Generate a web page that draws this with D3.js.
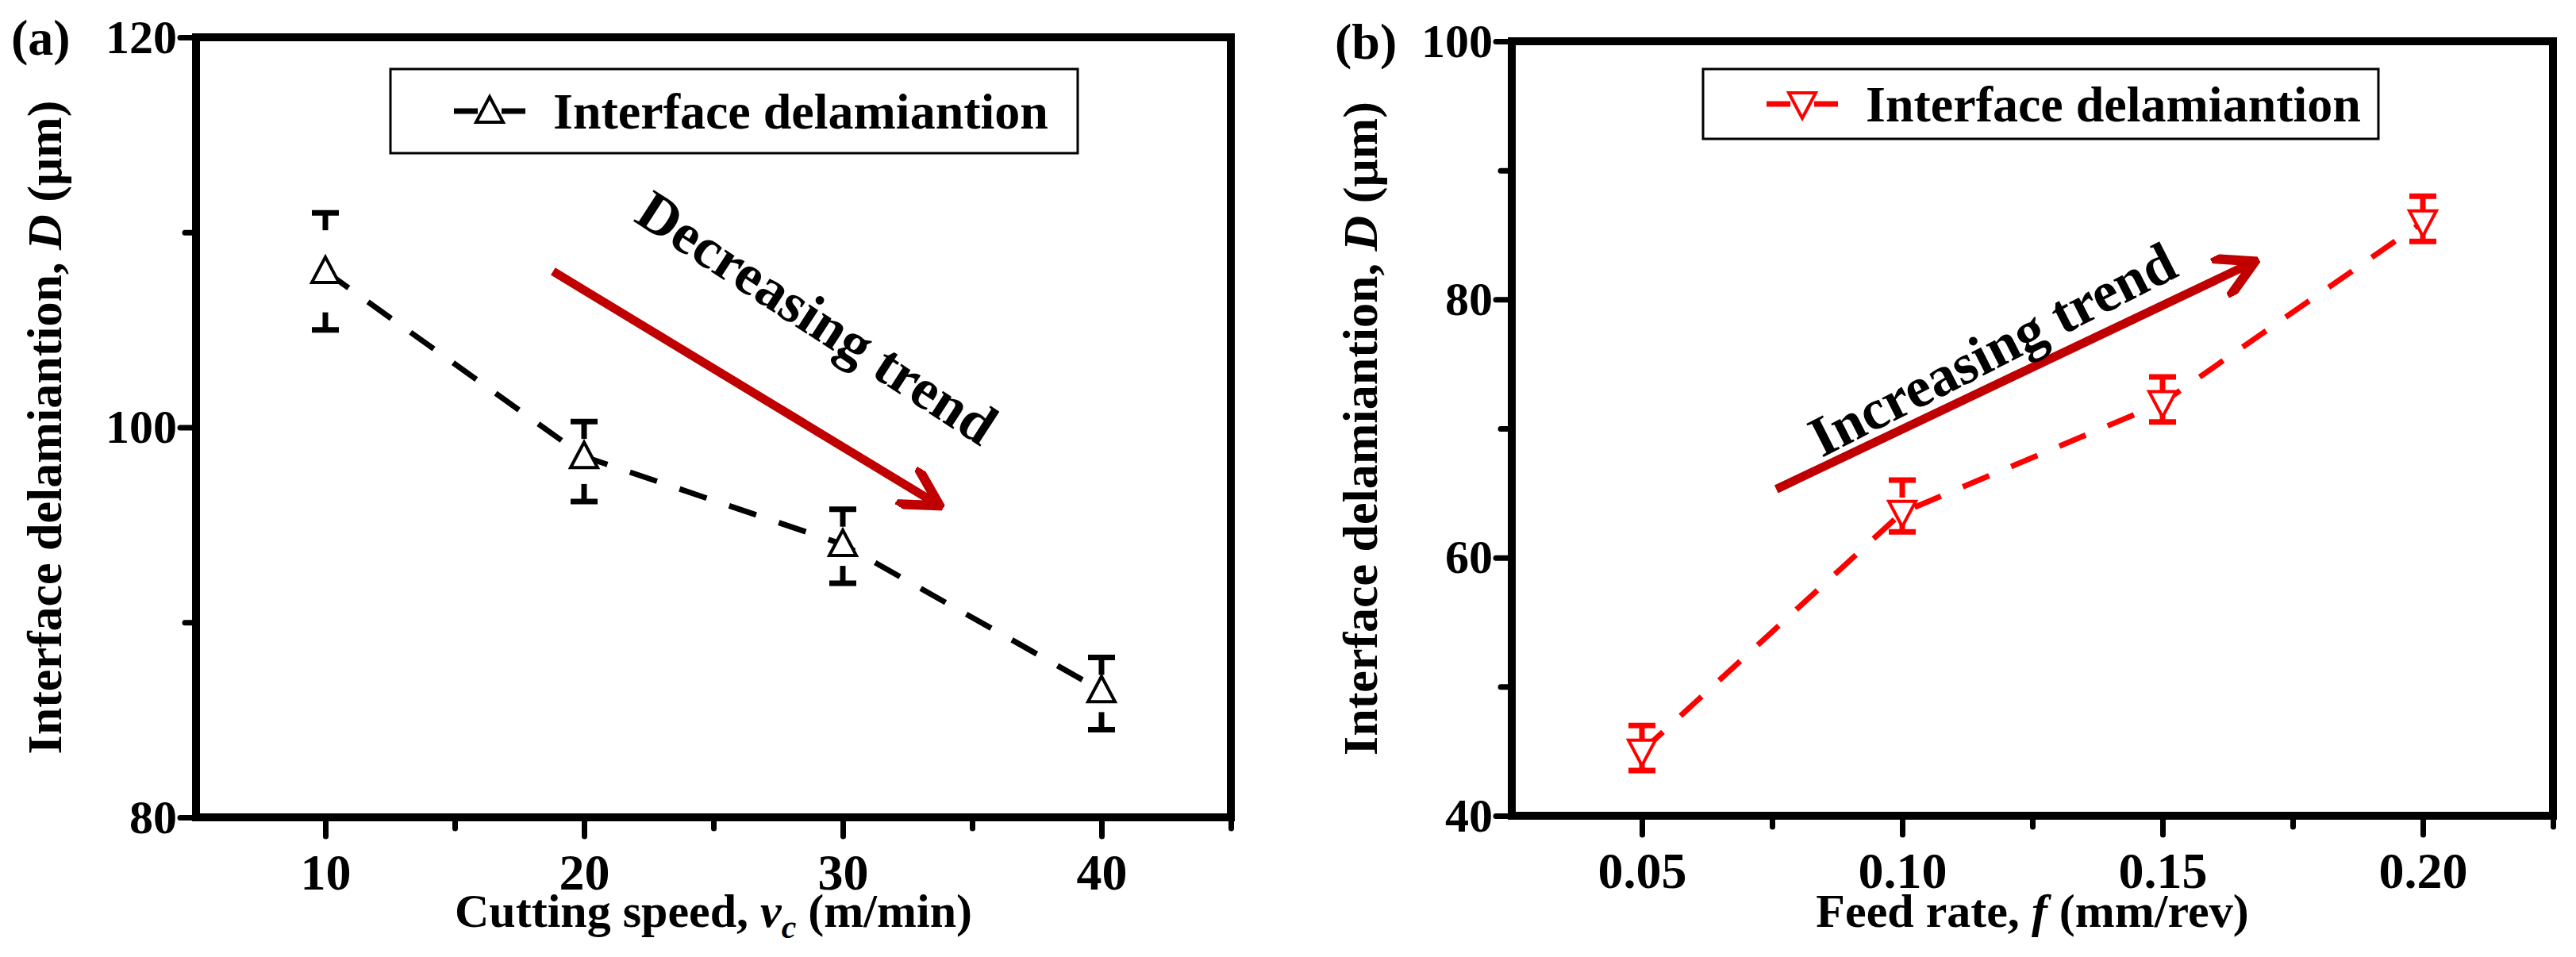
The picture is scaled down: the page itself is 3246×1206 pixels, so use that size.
<!DOCTYPE html>
<html><head><meta charset="utf-8">
<script src="https://cdn.jsdelivr.net/npm/d3@7"></script>
<style>body{margin:0;background:#fff}svg text{font-family:"Liberation Serif","Times New Roman",serif;font-weight:bold}</style>
</head><body>
<svg id="c" width="3246" height="1206"></svg>
<script>
// panel (a): cutting speed
const speeds = [10, 20, 30, 40];
const delamA = [108, 98.5, 94, 86.5];
const errLoA = [105, 96.2, 92, 84.5];
const errHiA = [111, 100.3, 95.8, 88.2];
// panel (b): feed rate
const feeds = [0.05, 0.10, 0.15, 0.20];
const delamB = [45, 63.5, 72, 86];
const errLoB = [43.5, 62, 70.5, 84.5];
const errHiB = [47, 66, 74, 88];
const ticksA = [10, 20, 30, 40], yTicksA = [80, 100, 120];
const ticksB = [0.05, 0.10, 0.15, 0.20], yTicksB = [40, 60, 80, 100];

const svg = d3.select('#c');
const RED = '#c00000';
svg.append('defs').append('marker').attr('id','ah').attr('viewBox','0 0 10 10')
  .attr('refX',8).attr('refY',5).attr('markerWidth',5).attr('markerHeight',5).attr('orient','auto')
  .append('path').attr('d','M0,0 L9,5 L0,10').attr('fill','none').attr('stroke',RED).attr('stroke-width',2.2);

function panel(o) {
  const g = svg.append('g');
  const x = d3.scaleLinear().domain(o.xd).range([o.l, o.r]);
  const y = d3.scaleLinear().domain(o.yd).range([o.b, o.t]);
  const ax = (sel) => sel.selectAll('.domain').remove();
  // minor ticks
  g.append('g').attr('transform',`translate(0,${o.b})`).call(d3.axisBottom(x).tickValues(o.xMinor).tickSize(14).tickFormat('')).call(ax);
  g.append('g').attr('transform',`translate(${o.l},0)`).call(d3.axisLeft(y).tickValues(o.yMinor).tickSize(14).tickFormat('')).call(ax);
  const gx = g.append('g').attr('transform',`translate(0,${o.b})`).call(d3.axisBottom(x).tickValues(o.xt).tickSize(24).tickPadding(22).tickFormat(o.xf)).call(ax);
  const gy = g.append('g').attr('transform',`translate(${o.l},0)`).call(d3.axisLeft(y).tickValues(o.yt).tickSize(20).tickPadding(4)).call(ax);
  g.selectAll('.tick line').attr('stroke','#000').attr('stroke-width',7).attr('stroke-linecap','round');
  gx.selectAll('text').attr('font-size',64).attr('fill','#000');
  gy.selectAll('text').attr('font-size',60).attr('fill','#000');
  g.append('rect').attr('x',o.l).attr('y',o.t).attr('width',o.r-o.l).attr('height',o.b-o.t)
    .attr('fill','none').attr('stroke','#000').attr('stroke-width',10);
  g.append('text').attr('x',o.labX).attr('y',o.t+22).attr('font-size',64).attr('text-anchor','start').text(o.lab);
  // axis titles
  const xt = g.append('text').attr('x',(o.l+o.r)/2).attr('y',1168).attr('font-size',60).attr('text-anchor','middle');
  o.xTitle(xt);
  const yt = g.append('text').attr('transform',`translate(${o.l-170},${(o.t+o.b)/2}) rotate(-90)`).attr('font-size',62).attr('text-anchor','middle');
  yt.append('tspan').text('Interface delamiantion, ');
  yt.append('tspan').attr('font-style','italic').text('D');
  yt.append('tspan').text(' (\u03bcm)');
  // data
  const pts = o.xs.map((v,i)=>({x:v,y:o.ys[i],lo:o.lo[i],hi:o.hi[i]}));
  g.append('path').datum(pts).attr('d',d3.line().x(d=>x(d.x)).y(d=>y(d.y)))
    .attr('fill','none').attr('stroke',o.col).attr('stroke-width',7).attr('stroke-dasharray','36,30');
  const eb = g.selectAll('.eb').data(pts).join('g').attr('stroke',o.col).attr('stroke-width',7);
  eb.append('line').attr('x1',d=>x(d.x)).attr('x2',d=>x(d.x)).attr('y1',d=>y(d.hi)).attr('y2',d=>y(d.hi)+22);
  eb.append('line').attr('x1',d=>x(d.x)).attr('x2',d=>x(d.x)).attr('y1',d=>y(d.lo)).attr('y2',d=>y(d.lo)-22);
  eb.append('line').attr('x1',d=>x(d.x)-17).attr('x2',d=>x(d.x)+17).attr('y1',d=>y(d.hi)).attr('y2',d=>y(d.hi));
  eb.append('line').attr('x1',d=>x(d.x)-17).attr('x2',d=>x(d.x)+17).attr('y1',d=>y(d.lo)).attr('y2',d=>y(d.lo));
  const tri = o.down ? 'M-17,-14 L17,-14 L0,18 Z' : 'M-17,14 L17,14 L0,-18 Z';
  g.selectAll('.m').data(pts).join('path').attr('d',tri)
    .attr('transform',d=>`translate(${x(d.x)},${y(d.y)})`).attr('fill','#fff').attr('stroke',o.col).attr('stroke-width',4);
  // legend
  g.append('rect').attr('x',o.lg[0]).attr('y',o.lg[1]).attr('width',o.lg[2]).attr('height',o.lg[3])
    .attr('fill','#fff').attr('stroke','#000').attr('stroke-width',3);
  const ly = o.lg[1]+o.lg[3]/2, lx = o.lg[0]+80;
  g.append('line').attr('x1',lx).attr('x2',lx+90).attr('y1',ly).attr('y2',ly).attr('stroke',o.col).attr('stroke-width',7).attr('stroke-dasharray','30,30');
  g.append('path').attr('d',tri).attr('transform',`translate(${lx+45},${ly})`).attr('fill','#fff').attr('stroke',o.col).attr('stroke-width',4);
  g.append('text').attr('x',lx+125).attr('y',ly+22).attr('font-size',64).text('Interface delamiantion');
  // trend arrow
  g.append('line').attr('x1',x(o.ar[0])).attr('y1',y(o.ar[1])).attr('x2',x(o.ar[2])).attr('y2',y(o.ar[3]))
    .attr('stroke',RED).attr('stroke-width',11).attr('marker-end','url(#ah)');
  g.append('text').attr('transform',`translate(${x(o.at[0])},${y(o.at[1])}) rotate(${o.at[2]})`)
    .attr('font-size',72).attr('text-anchor','middle').text(o.at[3]);
}

panel({l:247,r:1551,t:47,b:1030,xd:[5,45],yd:[80,120],xt:ticksA,yt:yTicksA,xMinor:[15,25,35,45],yMinor:[90,110],
  xf:d3.format('d'),lab:'(a)',labX:14,col:'#000',down:false,xs:speeds,ys:delamA,lo:errLoA,hi:errHiA,
  lg:[492,87,866,106],ar:[18.8,108,33.6,96.1],at:[28.6,104.8,33,'Decreasing trend'],
  xTitle:t=>{t.append('tspan').text('Cutting speed, ');t.append('tspan').attr('font-style','italic').text('v');
    t.append('tspan').attr('font-style','italic').attr('font-size',42).attr('dy',14).text('c');t.append('tspan').attr('dy',-14).text(' (m/min)');}});
panel({l:1905,r:3217,t:52,b:1028,xd:[0.025,0.225],yd:[40,100],xt:ticksB,yt:yTicksB,xMinor:[0.075,0.125,0.175,0.225],yMinor:[50,70,90],
  xf:d3.format('.2f'),lab:'(b)',labX:1682,col:'#ff0000',down:true,xs:feeds,ys:delamB,lo:errLoB,hi:errHiB,
  lg:[2146,87,851,88],ar:[0.0758,65.3,0.167,82.8],at:[0.119,74.8,-27,'Increasing trend'],
  xTitle:t=>{t.append('tspan').text('Feed rate, ');t.append('tspan').attr('font-style','italic').text('f');t.append('tspan').text(' (mm/rev)');}});
</script>
</body></html>
